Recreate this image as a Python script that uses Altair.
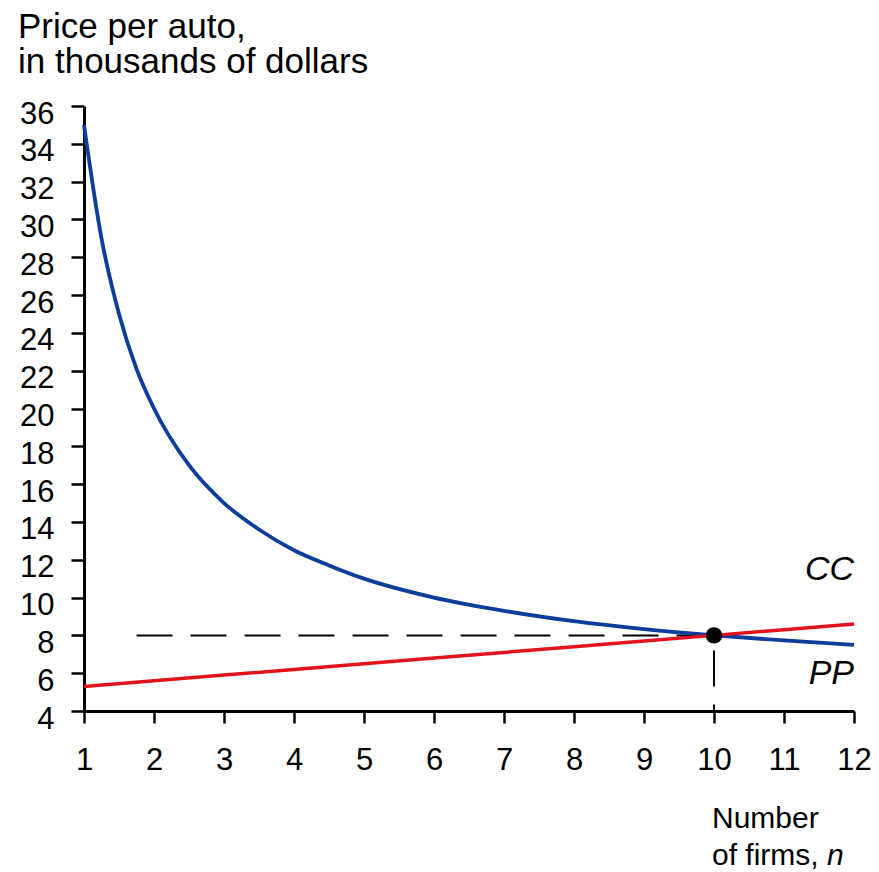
import altair as alt
import pandas as pd

# CC curve
n_cc = [1, 1.25, 1.5, 1.75, 2, 2.5, 3, 3.5, 4, 4.5, 5, 6, 7, 8, 9, 10, 11, 12]
cc = [35, 29, 25, 22.1, 20, 17, 15, 13.6, 12.5, 11.7, 11, 10, 9.3, 8.75, 8.33, 8, 7.73, 7.5]
# PP line
n_pp = [1, 2, 3, 4, 5, 6, 7, 8, 9, 10, 11, 12]
pp = [5.3, 5.6, 5.9, 6.2, 6.5, 6.8, 7.1, 7.4, 7.7, 8.0, 8.3, 8.6]
# equilibrium
eq_n = [10]
eq_p = [8]
x_ticks = list(range(1, 13))
y_ticks = list(range(4, 37, 2))
title_lines = ["Price per auto,", "in thousands of dollars"]

FONT = "Liberation Sans"
BLUE = "#0c3d9c"
RED = "#e3131c"

cc_df = pd.DataFrame({"n": n_cc, "p": cc})
pp_df = pd.DataFrame({"n": n_pp, "p": pp})
eq_df = pd.DataFrame({"n": eq_n, "p": eq_p, "n0": [1.75], "p0": [4]})
lab_df = pd.DataFrame({"lab": ["CC", "PP"], "n": [12, 12], "p": [11.45, 5.95]})
one = pd.DataFrame({"a": [0]})

xscale = alt.Scale(domain=[1, 12], nice=False, zero=False)
yscale = alt.Scale(domain=[4, 36], nice=False, zero=False)

xaxis = alt.Axis(values=x_ticks, format="d", title=None, grid=False)
yaxis = alt.Axis(values=y_ticks, format="d", title=None, grid=False)


def X(f):
    return alt.X(f, scale=xscale, axis=xaxis)


def Y(f):
    return alt.Y(f, scale=yscale, axis=yaxis)


cc_line = alt.Chart(cc_df).mark_line(color=BLUE, strokeWidth=3.8, interpolate="monotone").encode(
    x=X("n:Q"), y=Y("p:Q"))
pp_line = alt.Chart(pp_df).mark_line(color=RED, strokeWidth=3.5).encode(
    x=X("n:Q"), y=Y("p:Q"))

hdash = alt.Chart(eq_df).mark_rule(color="black", strokeWidth=2, strokeDash=[36, 18]).encode(
    x=X("n0:Q"), x2=alt.X2("n:Q"), y=Y("p:Q"))
vdash = alt.Chart(eq_df).mark_rule(color="black", strokeWidth=2, strokeDash=[36, 18],
                                   strokeDashOffset=39).encode(
    x=X("n:Q"), y=Y("p:Q"), y2=alt.Y2("p0:Q"))
point = alt.Chart(eq_df).mark_point(filled=True, color="black", size=270, opacity=1).encode(
    x=X("n:Q"), y=Y("p:Q"))

labs = alt.Chart(lab_df).mark_text(font=FONT, fontSize=34, fontStyle="italic",
                                   align="right", baseline="middle", color="black").encode(
    x=X("n:Q"), y=Y("p:Q"), text="lab:N")


def txt(s, x, y, size, style="normal", lh=None):
    kw = {"lineHeight": lh} if lh else {}
    return alt.Chart(one).mark_text(font=FONT, fontSize=size, fontStyle=style,
                                    align="left", baseline="alphabetic", color="black",
                                    **kw).encode(
        x=alt.value(x), y=alt.value(y), text=alt.value(s))


title = txt(title_lines, -66, -68, 35, lh=35)
xl1 = txt("Number", 628, 722, 30)
xl2 = txt("of firms,", 628, 759, 30)
xl3 = txt("n", 743, 759, 30, "italic")

chart = alt.layer(hdash, vdash, cc_line, pp_line, point, labs, title, xl1, xl2, xl3).properties(
    width=770, height=605,
    autosize=alt.AutoSizeParams(type="none"),
    padding={"left": 76, "top": 98, "right": 17, "bottom": 160},
).configure_view(stroke=None).configure_axis(
    domainColor="black", domainWidth=3, tickColor="black", tickWidth=2.5, tickSize=12,
    labelColor="black", labelFont=FONT, labelOverlap=False, labelFlush=False, grid=False,
).configure_axisX(
    labelFontSize=31, labelPadding=22,
).configure_axisY(
    labelFontSize=31, labelPadding=17, labelOffset=8, tickSize=13, labelBaseline="middle",
)

chart.save("out.html", embed_options={"renderer": "svg", "actions": False})
